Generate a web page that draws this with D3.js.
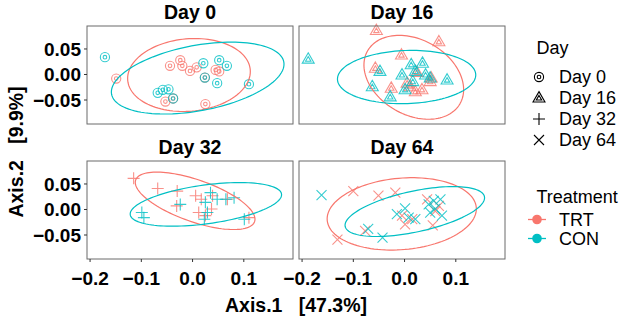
<!DOCTYPE html>
<html>
<head>
<meta charset="utf-8">
<script src="https://cdn.jsdelivr.net/npm/d3@7"></script>
<style>
  body { margin: 0; background: #fff; }
  text { font-family: "Liberation Sans", Arial, sans-serif; }
  .tick-label { font-size: 19px; font-weight: bold; fill: #000; }
  .strip { font-size: 19.5px; font-weight: bold; }
  .axis-title { font-size: 19.5px; font-weight: bold; }
  .legend-text { font-size: 18px; }
</style>
</head>
<body>
<div id="viz"></div>
<script>
// points [Axis.1, Axis.2] per day and treatment
var day0Trt = [[-0.149,-0.008],[-0.044,0.017],[-0.024,0.028],[-0.020,0.017],[-0.005,0.007],
  [0.008,0.014],[0.045,0.009],[0.052,0.006],[0.024,-0.006],[-0.053,-0.053],[-0.038,-0.047],[0.025,-0.058]];
var day0Con = [[-0.171,0.034],[0.021,0.022],[0.052,0.028],[0.067,0.017],[0.024,-0.006],[0.048,-0.017],
  [0.110,-0.019],[-0.068,-0.036],[-0.058,-0.030],[-0.047,-0.029],[-0.038,-0.047]];

var day16Trt = [[-0.055,0.086],[0.067,0.064],[-0.006,0.038],[-0.057,0.012],[-0.026,-0.027],[0.024,0.004],
  [0.011,-0.024],[0.034,-0.030],[0.050,-0.014],[0.052,-0.007],[0.021,-0.034],[0.005,-0.017]];
var day16Con = [[-0.188,0.030],[-0.048,0.006],[-0.063,-0.024],[-0.028,-0.044],[-0.005,-0.001],[0.013,0.019],
  [0.035,0.022],[0.001,-0.030],[0.016,-0.014],[0.041,-0.001],[0.050,-0.007],[0.083,-0.011],[0.021,0.006]];

var day32Trt = [[-0.115,0.061],[-0.068,0.041],[-0.030,0.036],[-0.031,0.007],[0.006,0.027],[0.017,0.020],
  [0.037,0.001],[0.012,-0.006],[0.039,0.027],[0.110,-0.016],[0.068,0.020],[0.025,-0.012]];
var day32Con = [[-0.099,-0.006],[-0.095,-0.016],[-0.024,0.010],[0.035,0.033],[0.025,0.014],[0.029,-0.006],
  [0.023,-0.019],[0.065,0.020],[0.081,0.023],[0.101,-0.019],[0.048,0.020]];

var day64Trt = [[-0.100,0.036],[-0.051,0.027],[-0.018,0.033],[-0.131,-0.059],[-0.077,-0.042],[-0.005,-0.012],
  [0.001,-0.029],[0.015,-0.019],[0.044,0.020],[0.060,-0.003],[0.055,-0.031],[0.067,0.007]];
var day64Con = [[-0.162,0.028],[-0.071,-0.038],[-0.043,-0.055],[-0.015,-0.009],[0.001,0.002],[0.008,-0.016],
  [0.021,-0.019],[0.047,0.010],[0.057,0.017],[0.070,0.020],[0.060,0.001],[0.073,-0.012],[0.050,-0.006]];

// 95% ellipses: [centre x, centre y, semi-major, semi-minor, angle in degrees]
var ellTrt = [[-0.007,-0.001,0.120,0.071,5],[0.018,-0.0055,0.104,0.0735,-30],
              [0.005,0.017,0.123,0.041,-19.4],[-0.0055,-0.0086,0.146,0.070,5]];
var ellCon = [[0.010,-0.007,0.171,0.064,10.7],[0.004,-0.005,0.135,0.052,2],
              [0.026,0.010,0.149,0.038,7.8],[0.020,-0.004,0.139,0.040,12.2]];

var days = ["Day 0", "Day 16", "Day 32", "Day 64"];
var treatments = ["TRT", "CON"];
var xTicks = [-0.2, -0.1, 0.0, 0.1];
var yTicks = [-0.05, 0.00, 0.05];

var colors = {TRT: "#F8766D", CON: "#00BFC4"};
var shapes = ["dcircle", "dtriangle", "plus", "cross"];

var w = 624, h = 320;
var svg = d3.select("#viz").append("svg").attr("width", w).attr("height", h);

var pw = 206, ph = 98;
var lefts = [87, 299], tops = [26, 161];

function symbolPath(shape) {
  var p = d3.path();
  if (shape == "dcircle") {
    p.moveTo(4.6, 0); p.arc(0, 0, 4.6, 0, 2*Math.PI);
    p.moveTo(1.8, 0); p.arc(0, 0, 1.8, 0, 2*Math.PI);
  } else if (shape == "dtriangle") {
    [6.9, 3.1].forEach(function(R) {
      var yo = 0.5;
      p.moveTo(0, -R + yo);
      p.lineTo(R*Math.sqrt(3)/2, R/2 + yo);
      p.lineTo(-R*Math.sqrt(3)/2, R/2 + yo);
      p.closePath();
    });
  } else if (shape == "plus") {
    p.moveTo(-6, 0); p.lineTo(6, 0);
    p.moveTo(0, -6); p.lineTo(0, 6);
  } else {
    p.moveTo(-5, -5); p.lineTo(5, 5);
    p.moveTo(-5, 5); p.lineTo(5, -5);
  }
  return p.toString();
}

var allTrt = [day0Trt, day16Trt, day32Trt, day64Trt];
var allCon = [day0Con, day16Con, day32Con, day64Con];

days.forEach(function(day, i) {
  var left = lefts[i % 2], top = tops[Math.floor(i / 2)];
  var x = d3.scaleLinear().domain([-0.206, 0.196]).range([left, left + pw]);
  var y = d3.scaleLinear().domain([-0.097, 0.095]).range([top + ph, top]);

  var g = svg.append("g");
  g.append("rect").attr("x", left).attr("y", top).attr("width", pw).attr("height", ph)
    .attr("fill", "#fff");

  svg.append("clipPath").attr("id", "clip" + i).append("rect")
    .attr("x", left).attr("y", top).attr("width", pw).attr("height", ph);

  // points
  var series = [["TRT", allTrt[i]], ["CON", allCon[i]]];
  series.forEach(function(s) {
    g.selectAll(null).data(s[1]).enter().append("path")
      .attr("d", symbolPath(shapes[i]))
      .attr("transform", function(d) { return "translate(" + x(d[0]) + "," + y(d[1]) + ")"; })
      .attr("fill", "none")
      .attr("stroke", colors[s[0]])
      .attr("stroke-opacity", 0.8)
      .attr("stroke-width", 1.1);
  });

  // ellipses
  var line = d3.line().x(function(d) { return x(d[0]); }).y(function(d) { return y(d[1]); })
    .curve(d3.curveLinearClosed);
  [["TRT", ellTrt[i]], ["CON", ellCon[i]]].forEach(function(s) {
    var e = s[1], th = e[4] * Math.PI / 180, pts = [];
    for (var k = 0; k < 120; k++) {
      var t = k / 120 * 2 * Math.PI;
      pts.push([e[0] + e[2]*Math.cos(t)*Math.cos(th) - e[3]*Math.sin(t)*Math.sin(th),
                e[1] + e[2]*Math.cos(t)*Math.sin(th) + e[3]*Math.sin(t)*Math.cos(th)]);
    }
    g.append("path").attr("d", line(pts)).attr("fill", "none")
      .attr("stroke", colors[s[0]]).attr("stroke-width", 1.2)
      .attr("clip-path", "url(#clip" + i + ")");
  });

  g.append("rect").attr("x", left).attr("y", top).attr("width", pw).attr("height", ph)
    .attr("fill", "none").attr("stroke", "#6b6b6b").attr("stroke-width", 1);

  // strip title
  svg.append("text").attr("class", "strip").attr("x", left + pw / 2).attr("y", top - 7.5)
    .attr("text-anchor", "middle").text(day);

  // y axis on left column
  if (i % 2 == 0) {
    yTicks.forEach(function(t) {
      svg.append("line").attr("x1", left - 3).attr("x2", left).attr("y1", y(t)).attr("y2", y(t))
        .attr("stroke", "#333");
      svg.append("text").attr("class", "tick-label").attr("x", left - 6).attr("y", y(t) + 6.8)
        .attr("text-anchor", "end").text(d3.format(".2f")(t));
    });
  }
  // x axis on bottom row
  if (i >= 2) {
    xTicks.forEach(function(t) {
      svg.append("line").attr("x1", x(t)).attr("x2", x(t)).attr("y1", top + ph).attr("y2", top + ph + 3)
        .attr("stroke", "#333");
      svg.append("text").attr("class", "tick-label").attr("x", x(t)).attr("y", top + ph + 26)
        .attr("text-anchor", "middle").text(d3.format(".1f")(t));
    });
  }
});

// axis titles
svg.append("text").attr("class", "axis-title").attr("x", 296).attr("y", 311.5)
  .attr("text-anchor", "middle").attr("xml:space", "preserve").text("Axis.1   [47.3%]");
svg.append("text").attr("class", "axis-title").attr("transform", "translate(23,152) rotate(-90)")
  .attr("text-anchor", "middle").attr("xml:space", "preserve").text("Axis.2   [9.9%]");

// legend: Day
var lg = svg.append("g");
lg.append("text").attr("class", "legend-text").attr("x", 536.5).attr("y", 54).text("Day");
days.forEach(function(day, i) {
  var cy = 77 + i * 21;
  lg.append("path").attr("d", symbolPath(shapes[i]))
    .attr("transform", "translate(539," + cy + ")")
    .attr("fill", "none").attr("stroke", "#000").attr("stroke-width", 1.1);
  lg.append("text").attr("class", "legend-text").attr("x", 559).attr("y", cy + 6.3).text(day);
});

// legend: Treatment
lg.append("text").attr("class", "legend-text").attr("x", 536.5).attr("y", 203).text("Treatment");
treatments.forEach(function(tr, i) {
  var cy = 219.5 + i * 19;
  lg.append("line").attr("x1", 528).attr("x2", 546).attr("y1", cy).attr("y2", cy)
    .attr("stroke", colors[tr]).attr("stroke-width", 1.3);
  lg.append("circle").attr("cx", 537).attr("cy", cy).attr("r", 4.8).attr("fill", colors[tr]);
  lg.append("text").attr("class", "legend-text").attr("x", 559).attr("y", cy + 6.3).text(tr);
});
</script>
</body>
</html>
